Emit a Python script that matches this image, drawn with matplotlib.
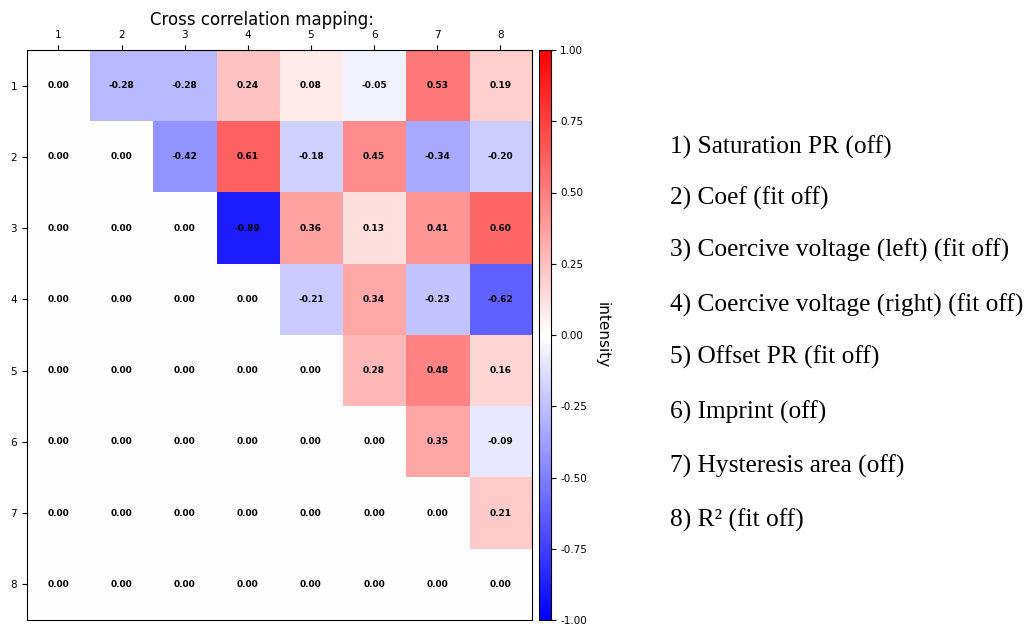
import numpy as np
import matplotlib
matplotlib.use("Agg")
import matplotlib.pyplot as plt

# Nomes das variaveis (legenda ao lado)
labels = [
    "1) Saturation PR (off)",
    "2) Coef (fit off)",
    "3) Coercive voltage (left) (fit off)",
    "4) Coercive voltage (right) (fit off)",
    "5) Offset PR (fit off)",
    "6) Imprint (off)",
    "7) Hysteresis area (off)",
    "8) R\u00b2 (fit off)",
]
tick_labels = ["1", "2", "3", "4", "5", "6", "7", "8"]

# Matriz triangular superior de correlacao
row1 = [0.00, -0.28, -0.28, 0.24, 0.08, -0.05, 0.53, 0.19]
row2 = [0.00, 0.00, -0.42, 0.61, -0.18, 0.45, -0.34, -0.20]
row3 = [0.00, 0.00, 0.00, -0.89, 0.36, 0.13, 0.41, 0.60]
row4 = [0.00, 0.00, 0.00, 0.00, -0.21, 0.34, -0.23, -0.62]
row5 = [0.00, 0.00, 0.00, 0.00, 0.00, 0.28, 0.48, 0.16]
row6 = [0.00, 0.00, 0.00, 0.00, 0.00, 0.00, 0.35, -0.09]
row7 = [0.00, 0.00, 0.00, 0.00, 0.00, 0.00, 0.00, 0.21]
row8 = [0.00, 0.00, 0.00, 0.00, 0.00, 0.00, 0.00, 0.00]

corr = np.array([row1, row2, row3, row4, row5, row6, row7, row8])

fig = plt.figure(figsize=(10.31, 6.25), dpi=100)
ax = fig.add_axes([0.026, 0.008, 0.49, 0.912])
cax = fig.add_axes([0.523, 0.008, 0.011, 0.912])

im = ax.imshow(corr, cmap="bwr", vmin=-1, vmax=1, aspect="auto")

n = len(tick_labels)
for i in range(n):
    for j in range(n):
        ax.text(j, i, f"{corr[i, j]:.2f}", ha="center", va="center",
                fontsize=6.5, fontweight="bold", color="black")

ax.set_xticks(range(n))
ax.set_yticks(range(n))
ax.set_xticklabels(tick_labels, fontsize=7.5)
ax.set_yticklabels(tick_labels, fontsize=7.5)
ax.xaxis.tick_top()
ax.set_title("Cross correlation mapping:", fontsize=12, pad=18, x=0.465)

cb = fig.colorbar(im, cax=cax, ticks=np.arange(-1, 1.01, 0.25))
cb.ax.tick_params(labelsize=7.5)
cb.ax.yaxis.set_major_formatter(matplotlib.ticker.FormatStrFormatter("%.2f"))
cb.set_label("intensity", rotation=270, labelpad=16, fontsize=11)

ys = [147, 198, 250, 305, 357, 412, 466, 520]
for lab, y in zip(labels, ys):
    fig.text(670 / 1031, 1 - y / 625, lab, ha="left", va="center",
             fontsize=18.3, family="Liberation Serif")

fig.savefig("out.png", dpi=100)
